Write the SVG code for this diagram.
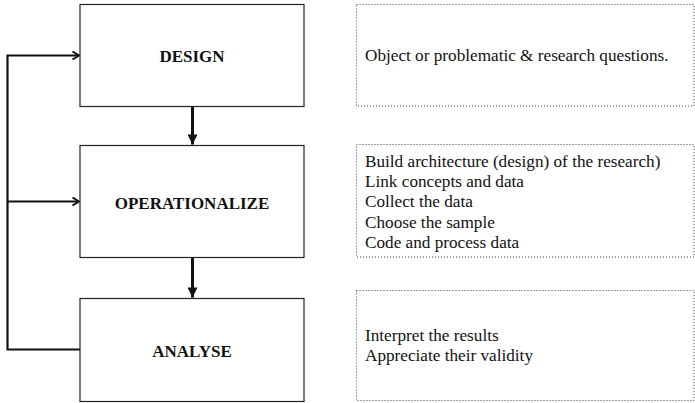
<svg xmlns="http://www.w3.org/2000/svg" width="695" height="403" viewBox="0 0 695 403">
<defs>
<style>
.box{fill:#fff;stroke:#222;stroke-width:1.2}
.note{fill:none;stroke:#444;stroke-width:1;stroke-dasharray:1,2}
.title{font-family:"Liberation Serif","Times New Roman",serif;font-size:17px;font-weight:bold;fill:#111;text-anchor:middle}
.txt{font-family:"Liberation Serif","Times New Roman",serif;font-size:17.2px;fill:#111}
.fb{fill:none;stroke:#111;stroke-width:2.2}
.dn{fill:none;stroke:#111;stroke-width:3}
</style>
<marker id="open" viewBox="0 0 10 10" refX="9.5" refY="5" markerWidth="10" markerHeight="10" markerUnits="userSpaceOnUse" orient="auto">
<path d="M3,1 L9.5,5 L3,9" fill="none" stroke="#111" stroke-width="2"/>
</marker>
<marker id="tri" viewBox="0 0 10 10" refX="10" refY="5" markerWidth="13" markerHeight="10" markerUnits="userSpaceOnUse" orient="auto">
<path d="M0,0 L10,5 L0,10 Z" fill="#111"/>
</marker>
</defs>
<g id="connectors">
<path class="fb" d="M80,349.5 H7.5 V55.5 H79" marker-end="url(#open)"/>
<path class="fb" d="M7.5,201.5 H79" marker-end="url(#open)"/>
<path class="dn" d="M192.5,106.5 V144.5" marker-end="url(#tri)"/>
<path class="dn" d="M192.5,257.5 V297.5" marker-end="url(#tri)"/>
</g>
<g id="design">
<rect class="box" x="80" y="4.5" width="224" height="102"/>
<text class="title" x="192" y="62">DESIGN</text>
</g>
<g id="operationalize">
<rect class="box" x="80" y="145.5" width="224" height="112"/>
<text class="title" x="192" y="209">OPERATIONALIZE</text>
</g>
<g id="analyse">
<rect class="box" x="80" y="298.5" width="224" height="103"/>
<text class="title" x="192" y="357">ANALYSE</text>
</g>
<g id="note-design">
<rect class="note" x="356.5" y="4.5" width="337.5" height="101.5"/>
<text class="txt" x="365" y="61">Object or problematic &amp; research questions.</text>
</g>
<g id="note-operationalize">
<rect class="note" x="356.5" y="144.5" width="337.5" height="112.5"/>
<text class="txt" x="365" y="167">Build architecture (design) of the research)</text>
<text class="txt" x="365" y="187">Link concepts and data</text>
<text class="txt" x="365" y="207">Collect the data</text>
<text class="txt" x="365" y="227.5">Choose the sample</text>
<text class="txt" x="365" y="247.5">Code and process data</text>
</g>
<g id="note-analyse">
<rect class="note" x="356.5" y="290.5" width="337.5" height="110"/>
<text class="txt" x="365" y="341">Interpret the results</text>
<text class="txt" x="365" y="361">Appreciate their validity</text>
</g>
</svg>
